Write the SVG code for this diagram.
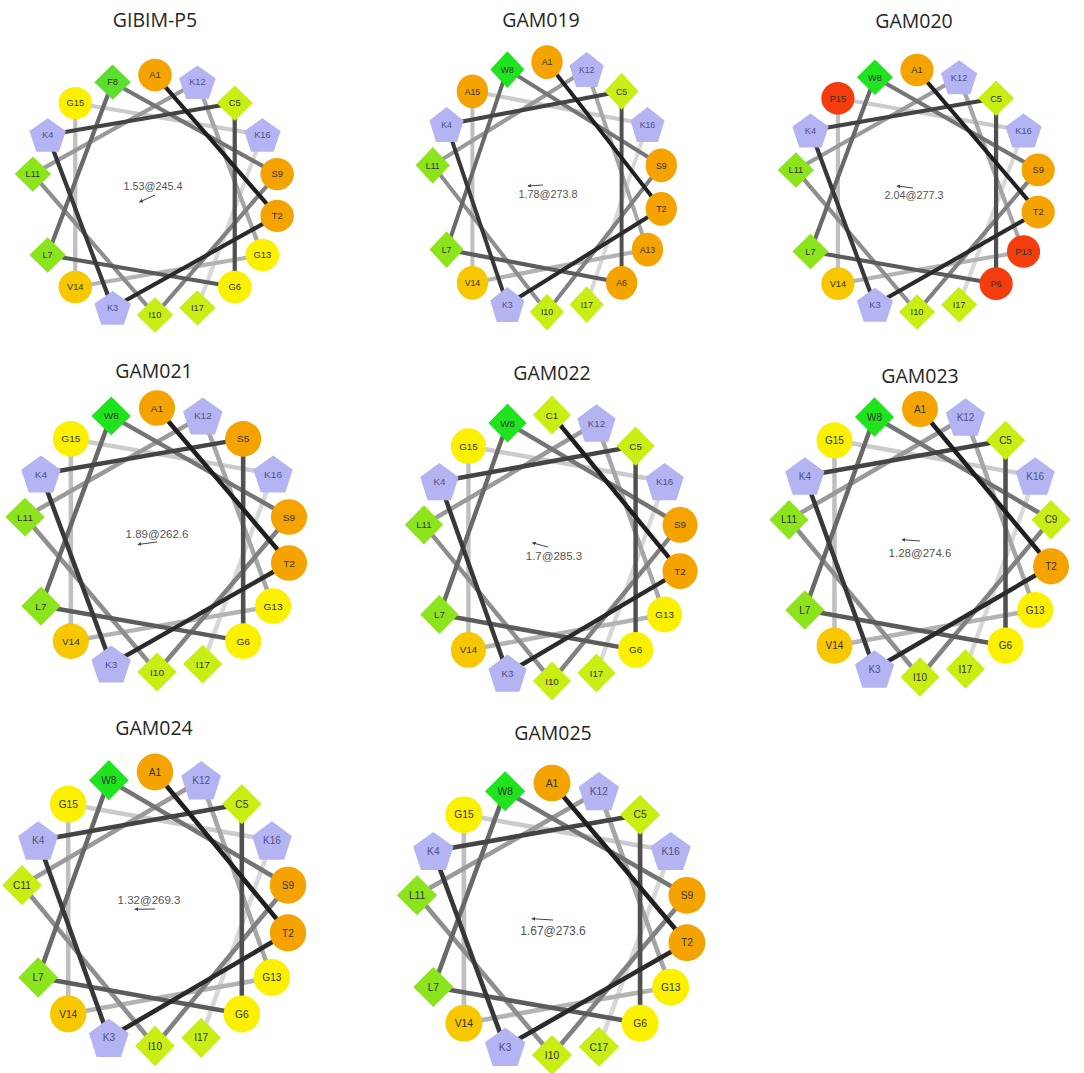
<svg xmlns="http://www.w3.org/2000/svg" xmlns:xlink="http://www.w3.org/1999/xlink" width="1084" height="1073" viewBox="0 0 1084 1073">
<style>
.title{font-family:"Open Sans","Liberation Sans",sans-serif;font-size:19.5px;fill:#262626;text-anchor:middle}
.mom{font-family:"Liberation Sans",Arial,sans-serif;fill:#555;text-anchor:middle}
.mline{stroke:#444;stroke-width:1;fill:none}
.links line{stroke-width:3.4;stroke-linecap:butt}
.l1{stroke:#1f1f1f}.l2{stroke:#2b2b2b}.l3{stroke:#383838}.l4{stroke:#444}
.l5{stroke:#505050}.l6{stroke:#5c5c5c}.l7{stroke:#696969}.l8{stroke:#757575}
.l9{stroke:#818181}.l10{stroke:#8e8e8e}.l11{stroke:#9a9a9a}.l12{stroke:#a6a6a6}
.l13{stroke:#b3b3b3}.l14{stroke:#bfbfbf}.l15{stroke:#cbcbcb}.l16{stroke:#d8d8d8}
.nodes text{font-family:"Liberation Sans",Arial,sans-serif;font-size:7.5px;fill:#333;text-anchor:middle}
.nodes text.kt{fill:#50508a}
.o{fill:#f5a300}.v{fill:#f7c700}.y{fill:#faf000}.r{fill:#f43c0c}
.c{fill:#c8ee14}.l{fill:#8ce41c}.w{fill:#1ee41e}.f{fill:#5cdf2c}.k{fill:#b4b4f2}
</style>
<defs>
<circle id="cir" r="13.5"/>
<path id="dia" d="M0,-14.7 L14.7,0 L0,14.7 L-14.7,0Z"/>
<path id="pen" d="M0,-14 L14.74,-3.29 L9.11,14.04 L-9.11,14.04 L-14.74,-3.29Z"/>
<marker id="ah" viewBox="0 0 6 6" refX="5" refY="3" markerWidth="4" markerHeight="4" orient="auto"><path d="M0,0 L6,3 L0,6Z" fill="#444"/></marker>
</defs>
<rect width="1084" height="1073" fill="#fff"/>

<!-- titles -->
<text class="title" x="155" y="27">GIBIM-P5</text>
<text class="title" x="541" y="27">GAM019</text>
<text class="title" x="914" y="28">GAM020</text>
<text class="title" x="154" y="378">GAM021</text>
<text class="title" x="552" y="380">GAM022</text>
<text class="title" x="920" y="383">GAM023</text>
<text class="title" x="154" y="735">GAM024</text>
<text class="title" x="553" y="740">GAM025</text>

<!-- Wheel 1 -->
<g id="wheel1" transform="translate(155,195) scale(1.24,1.2)">
<g id="wheel1-links" class="links">
<line class="l16" x1="86.6" y1="-50" x2="34.2" y2="94"/>
<line class="l15" x1="-64.3" y1="-76.6" x2="86.6" y2="-50"/>
<line class="l14" x1="-64.3" y1="76.6" x2="-64.3" y2="-76.6"/>
<line class="l13" x1="86.6" y1="50" x2="-64.3" y2="76.6"/>
<line class="l12" x1="34.2" y1="-94" x2="86.6" y2="50"/>
<line class="l11" x1="-98.5" y1="-17.4" x2="34.2" y2="-94"/>
<line class="l10" x1="0" y1="100" x2="-98.5" y2="-17.4"/>
<line class="l9" x1="98.5" y1="-17.4" x2="0" y2="100"/>
<line class="l8" x1="-34.2" y1="-94" x2="98.5" y2="-17.4"/>
<line class="l7" x1="-86.6" y1="50" x2="-34.2" y2="-94"/>
<line class="l6" x1="64.3" y1="76.6" x2="-86.6" y2="50"/>
<line class="l5" x1="64.3" y1="-76.6" x2="64.3" y2="76.6"/>
<line class="l4" x1="-86.6" y1="-50" x2="64.3" y2="-76.6"/>
<line class="l3" x1="-34.2" y1="94" x2="-86.6" y2="-50"/>
<line class="l2" x1="98.5" y1="17.4" x2="-34.2" y2="94"/>
<line class="l1" x1="0" y1="-100" x2="98.5" y2="17.4"/>
</g>
<g class="nodes">
<g id="w1-A1" transform="translate(0,-100)"><use xlink:href="#cir" class="o"/><text y="2.7">A1</text></g>
<g id="w1-T2" transform="translate(98.5,17.4)"><use xlink:href="#cir" class="o"/><text y="2.7">T2</text></g>
<g id="w1-K3" transform="translate(-34.2,94)"><use xlink:href="#pen" class="k"/><text y="2.7" class="kt">K3</text></g>
<g id="w1-K4" transform="translate(-86.6,-50)"><use xlink:href="#pen" class="k"/><text y="2.7" class="kt">K4</text></g>
<g id="w1-C5" transform="translate(64.3,-76.6)"><use xlink:href="#dia" class="c"/><text y="2.7">C5</text></g>
<g id="w1-G6" transform="translate(64.3,76.6)"><use xlink:href="#cir" class="y"/><text y="2.7">G6</text></g>
<g id="w1-L7" transform="translate(-86.6,50)"><use xlink:href="#dia" class="l"/><text y="2.7">L7</text></g>
<g id="w1-F8" transform="translate(-34.2,-94)"><use xlink:href="#dia" class="f"/><text y="2.7">F8</text></g>
<g id="w1-S9" transform="translate(98.5,-17.4)"><use xlink:href="#cir" class="o"/><text y="2.7">S9</text></g>
<g id="w1-I10" transform="translate(0,100)"><use xlink:href="#dia" class="c"/><text y="2.7">I10</text></g>
<g id="w1-L11" transform="translate(-98.5,-17.4)"><use xlink:href="#dia" class="l"/><text y="2.7">L11</text></g>
<g id="w1-K12" transform="translate(34.2,-94)"><use xlink:href="#pen" class="k"/><text y="2.7" class="kt">K12</text></g>
<g id="w1-G13" transform="translate(86.6,50)"><use xlink:href="#cir" class="y"/><text y="2.7">G13</text></g>
<g id="w1-V14" transform="translate(-64.3,76.6)"><use xlink:href="#cir" class="v"/><text y="2.7">V14</text></g>
<g id="w1-G15" transform="translate(-64.3,-76.6)"><use xlink:href="#cir" class="y"/><text y="2.7">G15</text></g>
<g id="w1-K16" transform="translate(86.6,-50)"><use xlink:href="#pen" class="k"/><text y="2.7" class="kt">K16</text></g>
<g id="w1-I17" transform="translate(34.2,94)"><use xlink:href="#dia" class="c"/><text y="2.7">I17</text></g>
</g>
</g>
<g id="w1-moment"><text class="mom" x="153" y="189.5" font-size="10.8">1.53@245.4</text><line class="mline" x1="155" y1="195" x2="139.5" y2="202" marker-end="url(#ah)"/></g>

<!-- Wheel 2 -->
<g id="wheel2" transform="translate(547,187) scale(1.16,1.25)">
<g id="wheel2-links" class="links">
<line class="l16" x1="86.6" y1="-50" x2="34.2" y2="94"/>
<line class="l15" x1="-64.3" y1="-76.6" x2="86.6" y2="-50"/>
<line class="l14" x1="-64.3" y1="76.6" x2="-64.3" y2="-76.6"/>
<line class="l13" x1="86.6" y1="50" x2="-64.3" y2="76.6"/>
<line class="l12" x1="34.2" y1="-94" x2="86.6" y2="50"/>
<line class="l11" x1="-98.5" y1="-17.4" x2="34.2" y2="-94"/>
<line class="l10" x1="0" y1="100" x2="-98.5" y2="-17.4"/>
<line class="l9" x1="98.5" y1="-17.4" x2="0" y2="100"/>
<line class="l8" x1="-34.2" y1="-94" x2="98.5" y2="-17.4"/>
<line class="l7" x1="-86.6" y1="50" x2="-34.2" y2="-94"/>
<line class="l6" x1="64.3" y1="76.6" x2="-86.6" y2="50"/>
<line class="l5" x1="64.3" y1="-76.6" x2="64.3" y2="76.6"/>
<line class="l4" x1="-86.6" y1="-50" x2="64.3" y2="-76.6"/>
<line class="l3" x1="-34.2" y1="94" x2="-86.6" y2="-50"/>
<line class="l2" x1="98.5" y1="17.4" x2="-34.2" y2="94"/>
<line class="l1" x1="0" y1="-100" x2="98.5" y2="17.4"/>
</g>
<g class="nodes">
<g id="w2-A1" transform="translate(0,-100)"><use xlink:href="#cir" class="o"/><text y="2.7">A1</text></g>
<g id="w2-T2" transform="translate(98.5,17.4)"><use xlink:href="#cir" class="o"/><text y="2.7">T2</text></g>
<g id="w2-K3" transform="translate(-34.2,94)"><use xlink:href="#pen" class="k"/><text y="2.7" class="kt">K3</text></g>
<g id="w2-K4" transform="translate(-86.6,-50)"><use xlink:href="#pen" class="k"/><text y="2.7" class="kt">K4</text></g>
<g id="w2-C5" transform="translate(64.3,-76.6)"><use xlink:href="#dia" class="c"/><text y="2.7">C5</text></g>
<g id="w2-A6" transform="translate(64.3,76.6)"><use xlink:href="#cir" class="o"/><text y="2.7">A6</text></g>
<g id="w2-L7" transform="translate(-86.6,50)"><use xlink:href="#dia" class="l"/><text y="2.7">L7</text></g>
<g id="w2-W8" transform="translate(-34.2,-94)"><use xlink:href="#dia" class="w"/><text y="2.7">W8</text></g>
<g id="w2-S9" transform="translate(98.5,-17.4)"><use xlink:href="#cir" class="o"/><text y="2.7">S9</text></g>
<g id="w2-I10" transform="translate(0,100)"><use xlink:href="#dia" class="c"/><text y="2.7">I10</text></g>
<g id="w2-L11" transform="translate(-98.5,-17.4)"><use xlink:href="#dia" class="l"/><text y="2.7">L11</text></g>
<g id="w2-K12" transform="translate(34.2,-94)"><use xlink:href="#pen" class="k"/><text y="2.7" class="kt">K12</text></g>
<g id="w2-A13" transform="translate(86.6,50)"><use xlink:href="#cir" class="o"/><text y="2.7">A13</text></g>
<g id="w2-V14" transform="translate(-64.3,76.6)"><use xlink:href="#cir" class="v"/><text y="2.7">V14</text></g>
<g id="w2-A15" transform="translate(-64.3,-76.6)"><use xlink:href="#cir" class="o"/><text y="2.7">A15</text></g>
<g id="w2-K16" transform="translate(86.6,-50)"><use xlink:href="#pen" class="k"/><text y="2.7" class="kt">K16</text></g>
<g id="w2-I17" transform="translate(34.2,94)"><use xlink:href="#dia" class="c"/><text y="2.7">I17</text></g>
</g>
</g>
<g id="w2-moment"><text class="mom" x="548" y="198" font-size="10.8">1.78@273.8</text><line class="mline" x1="543" y1="185" x2="528" y2="186" marker-end="url(#ah)"/></g>

<!-- Wheel 3 -->
<g id="wheel3" transform="translate(917,191) scale(1.23,1.21)">
<g id="wheel3-links" class="links">
<line class="l16" x1="86.6" y1="-50" x2="34.2" y2="94"/>
<line class="l15" x1="-64.3" y1="-76.6" x2="86.6" y2="-50"/>
<line class="l14" x1="-64.3" y1="76.6" x2="-64.3" y2="-76.6"/>
<line class="l13" x1="86.6" y1="50" x2="-64.3" y2="76.6"/>
<line class="l12" x1="34.2" y1="-94" x2="86.6" y2="50"/>
<line class="l11" x1="-98.5" y1="-17.4" x2="34.2" y2="-94"/>
<line class="l10" x1="0" y1="100" x2="-98.5" y2="-17.4"/>
<line class="l9" x1="98.5" y1="-17.4" x2="0" y2="100"/>
<line class="l8" x1="-34.2" y1="-94" x2="98.5" y2="-17.4"/>
<line class="l7" x1="-86.6" y1="50" x2="-34.2" y2="-94"/>
<line class="l6" x1="64.3" y1="76.6" x2="-86.6" y2="50"/>
<line class="l5" x1="64.3" y1="-76.6" x2="64.3" y2="76.6"/>
<line class="l4" x1="-86.6" y1="-50" x2="64.3" y2="-76.6"/>
<line class="l3" x1="-34.2" y1="94" x2="-86.6" y2="-50"/>
<line class="l2" x1="98.5" y1="17.4" x2="-34.2" y2="94"/>
<line class="l1" x1="0" y1="-100" x2="98.5" y2="17.4"/>
</g>
<g class="nodes">
<g id="w3-A1" transform="translate(0,-100)"><use xlink:href="#cir" class="o"/><text y="2.7">A1</text></g>
<g id="w3-T2" transform="translate(98.5,17.4)"><use xlink:href="#cir" class="o"/><text y="2.7">T2</text></g>
<g id="w3-K3" transform="translate(-34.2,94)"><use xlink:href="#pen" class="k"/><text y="2.7" class="kt">K3</text></g>
<g id="w3-K4" transform="translate(-86.6,-50)"><use xlink:href="#pen" class="k"/><text y="2.7" class="kt">K4</text></g>
<g id="w3-C5" transform="translate(64.3,-76.6)"><use xlink:href="#dia" class="c"/><text y="2.7">C5</text></g>
<g id="w3-P6" transform="translate(64.3,76.6)"><use xlink:href="#cir" class="r"/><text y="2.7">P6</text></g>
<g id="w3-L7" transform="translate(-86.6,50)"><use xlink:href="#dia" class="l"/><text y="2.7">L7</text></g>
<g id="w3-W8" transform="translate(-34.2,-94)"><use xlink:href="#dia" class="w"/><text y="2.7">W8</text></g>
<g id="w3-S9" transform="translate(98.5,-17.4)"><use xlink:href="#cir" class="o"/><text y="2.7">S9</text></g>
<g id="w3-I10" transform="translate(0,100)"><use xlink:href="#dia" class="c"/><text y="2.7">I10</text></g>
<g id="w3-L11" transform="translate(-98.5,-17.4)"><use xlink:href="#dia" class="l"/><text y="2.7">L11</text></g>
<g id="w3-K12" transform="translate(34.2,-94)"><use xlink:href="#pen" class="k"/><text y="2.7" class="kt">K12</text></g>
<g id="w3-P13" transform="translate(86.6,50)"><use xlink:href="#cir" class="r"/><text y="2.7">P13</text></g>
<g id="w3-V14" transform="translate(-64.3,76.6)"><use xlink:href="#cir" class="v"/><text y="2.7">V14</text></g>
<g id="w3-P15" transform="translate(-64.3,-76.6)"><use xlink:href="#cir" class="r"/><text y="2.7">P15</text></g>
<g id="w3-K16" transform="translate(86.6,-50)"><use xlink:href="#pen" class="k"/><text y="2.7" class="kt">K16</text></g>
<g id="w3-I17" transform="translate(34.2,94)"><use xlink:href="#dia" class="c"/><text y="2.7">I17</text></g>
</g>
</g>
<g id="w3-moment"><text class="mom" x="914" y="199" font-size="10.8">2.04@277.3</text><line class="mline" x1="913" y1="188" x2="897" y2="186" marker-end="url(#ah)"/></g>

<!-- Wheel 4 -->
<g id="wheel4" transform="translate(157,540) scale(1.34,1.32)">
<g id="wheel4-links" class="links">
<line class="l16" x1="86.6" y1="-50" x2="34.2" y2="94"/>
<line class="l15" x1="-64.3" y1="-76.6" x2="86.6" y2="-50"/>
<line class="l14" x1="-64.3" y1="76.6" x2="-64.3" y2="-76.6"/>
<line class="l13" x1="86.6" y1="50" x2="-64.3" y2="76.6"/>
<line class="l12" x1="34.2" y1="-94" x2="86.6" y2="50"/>
<line class="l11" x1="-98.5" y1="-17.4" x2="34.2" y2="-94"/>
<line class="l10" x1="0" y1="100" x2="-98.5" y2="-17.4"/>
<line class="l9" x1="98.5" y1="-17.4" x2="0" y2="100"/>
<line class="l8" x1="-34.2" y1="-94" x2="98.5" y2="-17.4"/>
<line class="l7" x1="-86.6" y1="50" x2="-34.2" y2="-94"/>
<line class="l6" x1="64.3" y1="76.6" x2="-86.6" y2="50"/>
<line class="l5" x1="64.3" y1="-76.6" x2="64.3" y2="76.6"/>
<line class="l4" x1="-86.6" y1="-50" x2="64.3" y2="-76.6"/>
<line class="l3" x1="-34.2" y1="94" x2="-86.6" y2="-50"/>
<line class="l2" x1="98.5" y1="17.4" x2="-34.2" y2="94"/>
<line class="l1" x1="0" y1="-100" x2="98.5" y2="17.4"/>
</g>
<g class="nodes">
<g id="w4-A1" transform="translate(0,-100)"><use xlink:href="#cir" class="o"/><text y="2.7">A1</text></g>
<g id="w4-T2" transform="translate(98.5,17.4)"><use xlink:href="#cir" class="o"/><text y="2.7">T2</text></g>
<g id="w4-K3" transform="translate(-34.2,94)"><use xlink:href="#pen" class="k"/><text y="2.7" class="kt">K3</text></g>
<g id="w4-K4" transform="translate(-86.6,-50)"><use xlink:href="#pen" class="k"/><text y="2.7" class="kt">K4</text></g>
<g id="w4-S5" transform="translate(64.3,-76.6)"><use xlink:href="#cir" class="o"/><text y="2.7">S5</text></g>
<g id="w4-G6" transform="translate(64.3,76.6)"><use xlink:href="#cir" class="y"/><text y="2.7">G6</text></g>
<g id="w4-L7" transform="translate(-86.6,50)"><use xlink:href="#dia" class="l"/><text y="2.7">L7</text></g>
<g id="w4-W8" transform="translate(-34.2,-94)"><use xlink:href="#dia" class="w"/><text y="2.7">W8</text></g>
<g id="w4-S9" transform="translate(98.5,-17.4)"><use xlink:href="#cir" class="o"/><text y="2.7">S9</text></g>
<g id="w4-I10" transform="translate(0,100)"><use xlink:href="#dia" class="c"/><text y="2.7">I10</text></g>
<g id="w4-L11" transform="translate(-98.5,-17.4)"><use xlink:href="#dia" class="l"/><text y="2.7">L11</text></g>
<g id="w4-K12" transform="translate(34.2,-94)"><use xlink:href="#pen" class="k"/><text y="2.7" class="kt">K12</text></g>
<g id="w4-G13" transform="translate(86.6,50)"><use xlink:href="#cir" class="y"/><text y="2.7">G13</text></g>
<g id="w4-V14" transform="translate(-64.3,76.6)"><use xlink:href="#cir" class="v"/><text y="2.7">V14</text></g>
<g id="w4-G15" transform="translate(-64.3,-76.6)"><use xlink:href="#cir" class="y"/><text y="2.7">G15</text></g>
<g id="w4-K16" transform="translate(86.6,-50)"><use xlink:href="#pen" class="k"/><text y="2.7" class="kt">K16</text></g>
<g id="w4-I17" transform="translate(34.2,94)"><use xlink:href="#dia" class="c"/><text y="2.7">I17</text></g>
</g>
</g>
<g id="w4-moment"><text class="mom" x="157" y="538" font-size="11.5">1.89@262.6</text><line class="mline" x1="157" y1="542" x2="138" y2="544.5" marker-end="url(#ah)"/></g>

<!-- Wheel 5 -->
<g id="wheel5" transform="translate(552,548) scale(1.3,1.33)">
<g id="wheel5-links" class="links">
<line class="l16" x1="86.6" y1="-50" x2="34.2" y2="94"/>
<line class="l15" x1="-64.3" y1="-76.6" x2="86.6" y2="-50"/>
<line class="l14" x1="-64.3" y1="76.6" x2="-64.3" y2="-76.6"/>
<line class="l13" x1="86.6" y1="50" x2="-64.3" y2="76.6"/>
<line class="l12" x1="34.2" y1="-94" x2="86.6" y2="50"/>
<line class="l11" x1="-98.5" y1="-17.4" x2="34.2" y2="-94"/>
<line class="l10" x1="0" y1="100" x2="-98.5" y2="-17.4"/>
<line class="l9" x1="98.5" y1="-17.4" x2="0" y2="100"/>
<line class="l8" x1="-34.2" y1="-94" x2="98.5" y2="-17.4"/>
<line class="l7" x1="-86.6" y1="50" x2="-34.2" y2="-94"/>
<line class="l6" x1="64.3" y1="76.6" x2="-86.6" y2="50"/>
<line class="l5" x1="64.3" y1="-76.6" x2="64.3" y2="76.6"/>
<line class="l4" x1="-86.6" y1="-50" x2="64.3" y2="-76.6"/>
<line class="l3" x1="-34.2" y1="94" x2="-86.6" y2="-50"/>
<line class="l2" x1="98.5" y1="17.4" x2="-34.2" y2="94"/>
<line class="l1" x1="0" y1="-100" x2="98.5" y2="17.4"/>
</g>
<g class="nodes">
<g id="w5-C1" transform="translate(0,-100)"><use xlink:href="#dia" class="c"/><text y="2.7">C1</text></g>
<g id="w5-T2" transform="translate(98.5,17.4)"><use xlink:href="#cir" class="o"/><text y="2.7">T2</text></g>
<g id="w5-K3" transform="translate(-34.2,94)"><use xlink:href="#pen" class="k"/><text y="2.7" class="kt">K3</text></g>
<g id="w5-K4" transform="translate(-86.6,-50)"><use xlink:href="#pen" class="k"/><text y="2.7" class="kt">K4</text></g>
<g id="w5-C5" transform="translate(64.3,-76.6)"><use xlink:href="#dia" class="c"/><text y="2.7">C5</text></g>
<g id="w5-G6" transform="translate(64.3,76.6)"><use xlink:href="#cir" class="y"/><text y="2.7">G6</text></g>
<g id="w5-L7" transform="translate(-86.6,50)"><use xlink:href="#dia" class="l"/><text y="2.7">L7</text></g>
<g id="w5-W8" transform="translate(-34.2,-94)"><use xlink:href="#dia" class="w"/><text y="2.7">W8</text></g>
<g id="w5-S9" transform="translate(98.5,-17.4)"><use xlink:href="#cir" class="o"/><text y="2.7">S9</text></g>
<g id="w5-I10" transform="translate(0,100)"><use xlink:href="#dia" class="c"/><text y="2.7">I10</text></g>
<g id="w5-L11" transform="translate(-98.5,-17.4)"><use xlink:href="#dia" class="l"/><text y="2.7">L11</text></g>
<g id="w5-K12" transform="translate(34.2,-94)"><use xlink:href="#pen" class="k"/><text y="2.7" class="kt">K12</text></g>
<g id="w5-G13" transform="translate(86.6,50)"><use xlink:href="#cir" class="y"/><text y="2.7">G13</text></g>
<g id="w5-V14" transform="translate(-64.3,76.6)"><use xlink:href="#cir" class="v"/><text y="2.7">V14</text></g>
<g id="w5-G15" transform="translate(-64.3,-76.6)"><use xlink:href="#cir" class="y"/><text y="2.7">G15</text></g>
<g id="w5-K16" transform="translate(86.6,-50)"><use xlink:href="#pen" class="k"/><text y="2.7" class="kt">K16</text></g>
<g id="w5-I17" transform="translate(34.2,94)"><use xlink:href="#dia" class="c"/><text y="2.7">I17</text></g>
</g>
</g>
<g id="w5-moment"><text class="mom" x="554" y="560" font-size="11.5">1.7@285.3</text><line class="mline" x1="548" y1="547" x2="532.5" y2="542.8" marker-end="url(#ah)"/></g>

<!-- Wheel 6 -->
<g id="wheel6" transform="translate(920,543) scale(1.33,1.34)">
<g id="wheel6-links" class="links">
<line class="l16" x1="86.6" y1="-50" x2="34.2" y2="94"/>
<line class="l15" x1="-64.3" y1="-76.6" x2="86.6" y2="-50"/>
<line class="l14" x1="-64.3" y1="76.6" x2="-64.3" y2="-76.6"/>
<line class="l13" x1="86.6" y1="50" x2="-64.3" y2="76.6"/>
<line class="l12" x1="34.2" y1="-94" x2="86.6" y2="50"/>
<line class="l11" x1="-98.5" y1="-17.4" x2="34.2" y2="-94"/>
<line class="l10" x1="0" y1="100" x2="-98.5" y2="-17.4"/>
<line class="l9" x1="98.5" y1="-17.4" x2="0" y2="100"/>
<line class="l8" x1="-34.2" y1="-94" x2="98.5" y2="-17.4"/>
<line class="l7" x1="-86.6" y1="50" x2="-34.2" y2="-94"/>
<line class="l6" x1="64.3" y1="76.6" x2="-86.6" y2="50"/>
<line class="l5" x1="64.3" y1="-76.6" x2="64.3" y2="76.6"/>
<line class="l4" x1="-86.6" y1="-50" x2="64.3" y2="-76.6"/>
<line class="l3" x1="-34.2" y1="94" x2="-86.6" y2="-50"/>
<line class="l2" x1="98.5" y1="17.4" x2="-34.2" y2="94"/>
<line class="l1" x1="0" y1="-100" x2="98.5" y2="17.4"/>
</g>
<g class="nodes">
<g id="w6-A1" transform="translate(0,-100)"><use xlink:href="#cir" class="o"/><text y="2.7">A1</text></g>
<g id="w6-T2" transform="translate(98.5,17.4)"><use xlink:href="#cir" class="o"/><text y="2.7">T2</text></g>
<g id="w6-K3" transform="translate(-34.2,94)"><use xlink:href="#pen" class="k"/><text y="2.7" class="kt">K3</text></g>
<g id="w6-K4" transform="translate(-86.6,-50)"><use xlink:href="#pen" class="k"/><text y="2.7" class="kt">K4</text></g>
<g id="w6-C5" transform="translate(64.3,-76.6)"><use xlink:href="#dia" class="c"/><text y="2.7">C5</text></g>
<g id="w6-G6" transform="translate(64.3,76.6)"><use xlink:href="#cir" class="y"/><text y="2.7">G6</text></g>
<g id="w6-L7" transform="translate(-86.6,50)"><use xlink:href="#dia" class="l"/><text y="2.7">L7</text></g>
<g id="w6-W8" transform="translate(-34.2,-94)"><use xlink:href="#dia" class="w"/><text y="2.7">W8</text></g>
<g id="w6-C9" transform="translate(98.5,-17.4)"><use xlink:href="#dia" class="c"/><text y="2.7">C9</text></g>
<g id="w6-I10" transform="translate(0,100)"><use xlink:href="#dia" class="c"/><text y="2.7">I10</text></g>
<g id="w6-L11" transform="translate(-98.5,-17.4)"><use xlink:href="#dia" class="l"/><text y="2.7">L11</text></g>
<g id="w6-K12" transform="translate(34.2,-94)"><use xlink:href="#pen" class="k"/><text y="2.7" class="kt">K12</text></g>
<g id="w6-G13" transform="translate(86.6,50)"><use xlink:href="#cir" class="y"/><text y="2.7">G13</text></g>
<g id="w6-V14" transform="translate(-64.3,76.6)"><use xlink:href="#cir" class="v"/><text y="2.7">V14</text></g>
<g id="w6-G15" transform="translate(-64.3,-76.6)"><use xlink:href="#cir" class="y"/><text y="2.7">G15</text></g>
<g id="w6-K16" transform="translate(86.6,-50)"><use xlink:href="#pen" class="k"/><text y="2.7" class="kt">K16</text></g>
<g id="w6-I17" transform="translate(34.2,94)"><use xlink:href="#dia" class="c"/><text y="2.7">I17</text></g>
</g>
</g>
<g id="w6-moment"><text class="mom" x="920" y="557" font-size="11.5">1.28@274.6</text><line class="mline" x1="920" y1="541" x2="902" y2="539.6" marker-end="url(#ah)"/></g>

<!-- Wheel 7 -->
<g id="wheel7" transform="translate(155,909) scale(1.35,1.37)">
<g id="wheel7-links" class="links">
<line class="l16" x1="86.6" y1="-50" x2="34.2" y2="94"/>
<line class="l15" x1="-64.3" y1="-76.6" x2="86.6" y2="-50"/>
<line class="l14" x1="-64.3" y1="76.6" x2="-64.3" y2="-76.6"/>
<line class="l13" x1="86.6" y1="50" x2="-64.3" y2="76.6"/>
<line class="l12" x1="34.2" y1="-94" x2="86.6" y2="50"/>
<line class="l11" x1="-98.5" y1="-17.4" x2="34.2" y2="-94"/>
<line class="l10" x1="0" y1="100" x2="-98.5" y2="-17.4"/>
<line class="l9" x1="98.5" y1="-17.4" x2="0" y2="100"/>
<line class="l8" x1="-34.2" y1="-94" x2="98.5" y2="-17.4"/>
<line class="l7" x1="-86.6" y1="50" x2="-34.2" y2="-94"/>
<line class="l6" x1="64.3" y1="76.6" x2="-86.6" y2="50"/>
<line class="l5" x1="64.3" y1="-76.6" x2="64.3" y2="76.6"/>
<line class="l4" x1="-86.6" y1="-50" x2="64.3" y2="-76.6"/>
<line class="l3" x1="-34.2" y1="94" x2="-86.6" y2="-50"/>
<line class="l2" x1="98.5" y1="17.4" x2="-34.2" y2="94"/>
<line class="l1" x1="0" y1="-100" x2="98.5" y2="17.4"/>
</g>
<g class="nodes">
<g id="w7-A1" transform="translate(0,-100)"><use xlink:href="#cir" class="o"/><text y="2.7">A1</text></g>
<g id="w7-T2" transform="translate(98.5,17.4)"><use xlink:href="#cir" class="o"/><text y="2.7">T2</text></g>
<g id="w7-K3" transform="translate(-34.2,94)"><use xlink:href="#pen" class="k"/><text y="2.7" class="kt">K3</text></g>
<g id="w7-K4" transform="translate(-86.6,-50)"><use xlink:href="#pen" class="k"/><text y="2.7" class="kt">K4</text></g>
<g id="w7-C5" transform="translate(64.3,-76.6)"><use xlink:href="#dia" class="c"/><text y="2.7">C5</text></g>
<g id="w7-G6" transform="translate(64.3,76.6)"><use xlink:href="#cir" class="y"/><text y="2.7">G6</text></g>
<g id="w7-L7" transform="translate(-86.6,50)"><use xlink:href="#dia" class="l"/><text y="2.7">L7</text></g>
<g id="w7-W8" transform="translate(-34.2,-94)"><use xlink:href="#dia" class="w"/><text y="2.7">W8</text></g>
<g id="w7-S9" transform="translate(98.5,-17.4)"><use xlink:href="#cir" class="o"/><text y="2.7">S9</text></g>
<g id="w7-I10" transform="translate(0,100)"><use xlink:href="#dia" class="c"/><text y="2.7">I10</text></g>
<g id="w7-C11" transform="translate(-98.5,-17.4)"><use xlink:href="#dia" class="c"/><text y="2.7">C11</text></g>
<g id="w7-K12" transform="translate(34.2,-94)"><use xlink:href="#pen" class="k"/><text y="2.7" class="kt">K12</text></g>
<g id="w7-G13" transform="translate(86.6,50)"><use xlink:href="#cir" class="y"/><text y="2.7">G13</text></g>
<g id="w7-V14" transform="translate(-64.3,76.6)"><use xlink:href="#cir" class="v"/><text y="2.7">V14</text></g>
<g id="w7-G15" transform="translate(-64.3,-76.6)"><use xlink:href="#cir" class="y"/><text y="2.7">G15</text></g>
<g id="w7-K16" transform="translate(86.6,-50)"><use xlink:href="#pen" class="k"/><text y="2.7" class="kt">K16</text></g>
<g id="w7-I17" transform="translate(34.2,94)"><use xlink:href="#dia" class="c"/><text y="2.7">I17</text></g>
</g>
</g>
<g id="w7-moment"><text class="mom" x="149" y="904" font-size="11.5">1.32@269.3</text><line class="mline" x1="155" y1="909" x2="135" y2="909.2" marker-end="url(#ah)"/></g>

<!-- Wheel 8 -->
<g id="wheel8" transform="translate(552,919) scale(1.37,1.36)">
<g id="wheel8-links" class="links">
<line class="l16" x1="86.6" y1="-50" x2="34.2" y2="94"/>
<line class="l15" x1="-64.3" y1="-76.6" x2="86.6" y2="-50"/>
<line class="l14" x1="-64.3" y1="76.6" x2="-64.3" y2="-76.6"/>
<line class="l13" x1="86.6" y1="50" x2="-64.3" y2="76.6"/>
<line class="l12" x1="34.2" y1="-94" x2="86.6" y2="50"/>
<line class="l11" x1="-98.5" y1="-17.4" x2="34.2" y2="-94"/>
<line class="l10" x1="0" y1="100" x2="-98.5" y2="-17.4"/>
<line class="l9" x1="98.5" y1="-17.4" x2="0" y2="100"/>
<line class="l8" x1="-34.2" y1="-94" x2="98.5" y2="-17.4"/>
<line class="l7" x1="-86.6" y1="50" x2="-34.2" y2="-94"/>
<line class="l6" x1="64.3" y1="76.6" x2="-86.6" y2="50"/>
<line class="l5" x1="64.3" y1="-76.6" x2="64.3" y2="76.6"/>
<line class="l4" x1="-86.6" y1="-50" x2="64.3" y2="-76.6"/>
<line class="l3" x1="-34.2" y1="94" x2="-86.6" y2="-50"/>
<line class="l2" x1="98.5" y1="17.4" x2="-34.2" y2="94"/>
<line class="l1" x1="0" y1="-100" x2="98.5" y2="17.4"/>
</g>
<g class="nodes">
<g id="w8-A1" transform="translate(0,-100)"><use xlink:href="#cir" class="o"/><text y="2.7">A1</text></g>
<g id="w8-T2" transform="translate(98.5,17.4)"><use xlink:href="#cir" class="o"/><text y="2.7">T2</text></g>
<g id="w8-K3" transform="translate(-34.2,94)"><use xlink:href="#pen" class="k"/><text y="2.7" class="kt">K3</text></g>
<g id="w8-K4" transform="translate(-86.6,-50)"><use xlink:href="#pen" class="k"/><text y="2.7" class="kt">K4</text></g>
<g id="w8-C5" transform="translate(64.3,-76.6)"><use xlink:href="#dia" class="c"/><text y="2.7">C5</text></g>
<g id="w8-G6" transform="translate(64.3,76.6)"><use xlink:href="#cir" class="y"/><text y="2.7">G6</text></g>
<g id="w8-L7" transform="translate(-86.6,50)"><use xlink:href="#dia" class="l"/><text y="2.7">L7</text></g>
<g id="w8-W8" transform="translate(-34.2,-94)"><use xlink:href="#dia" class="w"/><text y="2.7">W8</text></g>
<g id="w8-S9" transform="translate(98.5,-17.4)"><use xlink:href="#cir" class="o"/><text y="2.7">S9</text></g>
<g id="w8-I10" transform="translate(0,100)"><use xlink:href="#dia" class="c"/><text y="2.7">I10</text></g>
<g id="w8-L11" transform="translate(-98.5,-17.4)"><use xlink:href="#dia" class="l"/><text y="2.7">L11</text></g>
<g id="w8-K12" transform="translate(34.2,-94)"><use xlink:href="#pen" class="k"/><text y="2.7" class="kt">K12</text></g>
<g id="w8-G13" transform="translate(86.6,50)"><use xlink:href="#cir" class="y"/><text y="2.7">G13</text></g>
<g id="w8-V14" transform="translate(-64.3,76.6)"><use xlink:href="#cir" class="v"/><text y="2.7">V14</text></g>
<g id="w8-G15" transform="translate(-64.3,-76.6)"><use xlink:href="#cir" class="y"/><text y="2.7">G15</text></g>
<g id="w8-K16" transform="translate(86.6,-50)"><use xlink:href="#pen" class="k"/><text y="2.7" class="kt">K16</text></g>
<g id="w8-C17" transform="translate(34.2,94)"><use xlink:href="#dia" class="c"/><text y="2.7">C17</text></g>
</g>
</g>
<g id="w8-moment"><text class="mom" x="553" y="935" font-size="12">1.67@273.6</text><line class="mline" x1="553" y1="920" x2="532" y2="918.7" marker-end="url(#ah)"/></g>
</svg>
